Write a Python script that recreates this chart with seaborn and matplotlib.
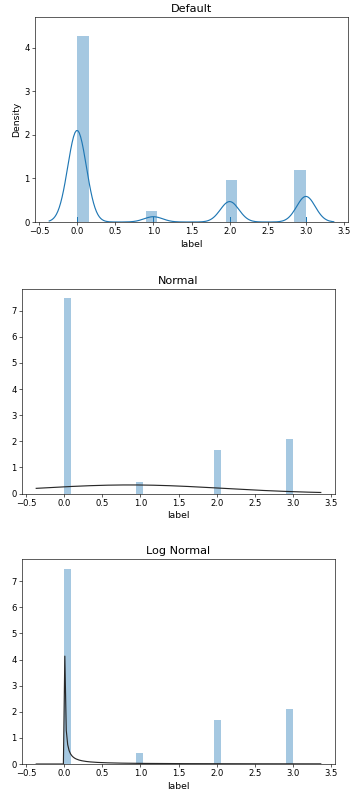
import warnings

import numpy as np
import pandas as pd
import seaborn as sns
from matplotlib import pyplot as plt

warnings.filterwarnings("ignore")

# label values and how many rows carry each one
label_values = [0, 1, 2, 3]
label_counts = [64100, 3700, 14300, 17900]

titles = ["Default", "Normal", "Log Normal"]

# location of the log-normal fit
lognorm_loc = -np.exp(-15.7)


class NormalFit:
    """Minimal stand-in for scipy.stats.norm (fit + pdf)."""

    @staticmethod
    def fit(a):
        a = np.asarray(a, dtype=float)
        return a.mean(), a.std()

    @staticmethod
    def pdf(x, loc, scale):
        z = (x - loc) / scale
        return np.exp(-0.5 * z ** 2) / (scale * np.sqrt(2 * np.pi))


class LogNormalFit:
    """Log-normal with a fixed loc, shape/scale by maximum likelihood."""

    @staticmethod
    def fit(a):
        a = np.asarray(a, dtype=float)
        logs = np.log(a - lognorm_loc)
        return logs.std(), lognorm_loc, np.exp(logs.mean())

    @staticmethod
    def pdf(x, s, loc, scale):
        y = np.asarray(x, dtype=float) - loc
        out = np.zeros_like(y)
        pos = y > 0
        z = np.log(y[pos] / scale) / s
        out[pos] = np.exp(-0.5 * z ** 2) / (y[pos] * s * np.sqrt(2 * np.pi))
        return out


def main():
    plt.rcParams.update({
        "xtick.labelsize": 11,
        "ytick.labelsize": 11,
        "axes.labelsize": 12,
        "axes.titlesize": 14.5,
    })

    label = pd.Series(np.repeat(label_values, label_counts), name="label")

    dpi = 72 * 0.773
    fig = plt.figure(figsize=(356 / dpi, 798 / dpi), dpi=dpi)

    # three stacked notebook figures, each cropped tightly
    w, h = 313 / 356, 205 / 798
    ax1 = fig.add_axes([35 / 356, (798 - 222) / 798, w, h])
    ax2 = fig.add_axes([22 / 356, (798 - 493.5) / 798, w, h])
    ax3 = fig.add_axes([22 / 356, (798 - 764) / 798, w, h])

    sns.distplot(label, bins=20, rug=True, ax=ax1)
    sns.distplot(label, kde=False, fit=NormalFit, ax=ax2)
    sns.distplot(label, kde=False, fit=LogNormalFit, ax=ax3)

    for ax, t in zip([ax1, ax2, ax3], titles):
        ax.set_title(t)

    fig.savefig("out.png", dpi=dpi)


if __name__ == "__main__":
    main()
